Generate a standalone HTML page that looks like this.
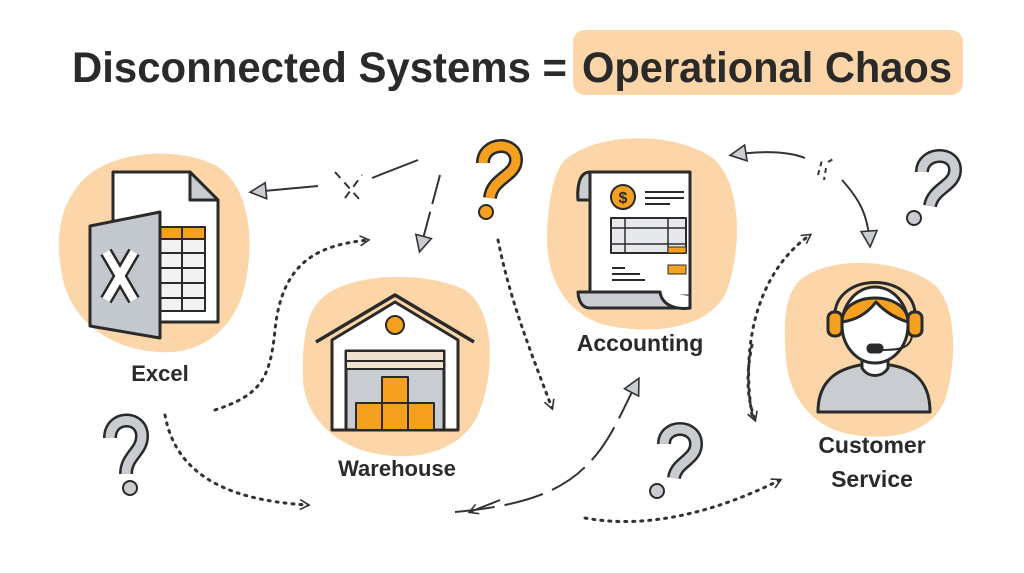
<!DOCTYPE html>
<html><head><meta charset="utf-8"><style>
html,body{margin:0;padding:0;background:#fff;}
svg{display:block;}
text{font-family:"Liberation Sans",sans-serif;font-weight:bold;fill:#2a2a2a;}
</style></head><body>
<svg width="1024" height="573" viewBox="0 0 1024 573" xmlns="http://www.w3.org/2000/svg">
<defs>
<marker id="ah" markerWidth="12" markerHeight="12" refX="9" refY="6" orient="auto" markerUnits="userSpaceOnUse"><path d="M1,1 L10,6 L1,11" fill="none" stroke="#333" stroke-width="1.6"/></marker>
<marker id="at" markerWidth="22" markerHeight="22" refX="16" refY="11" orient="auto" markerUnits="userSpaceOnUse"><path d="M2,3 L18,11 L2,19 Z" fill="#c9ccd1" stroke="#333" stroke-width="1.6"/></marker>
</defs>
<!-- title -->
<rect x="573" y="30" width="390" height="65" rx="12" fill="#fcd6a8"/>
<text x="72" y="82" font-size="43" textLength="495" lengthAdjust="spacingAndGlyphs">Disconnected Systems =</text>
<text x="582" y="82" font-size="43" textLength="370" lengthAdjust="spacingAndGlyphs">Operational Chaos</text>

<!-- blobs -->
<path d="M75,190 C100,150 175,145 215,165 C250,185 255,240 245,285 C235,330 200,355 160,352 C110,350 70,320 62,275 C55,240 60,210 75,190 Z" fill="#fcd6a8"/>
<path d="M320,300 C350,270 430,272 465,290 C495,310 495,370 480,410 C465,450 420,460 385,455 C340,450 305,420 303,380 C302,345 305,315 320,300 Z" fill="#fcd6a8"/>
<path d="M565,160 C600,130 680,132 715,160 C745,190 740,260 725,295 C705,330 650,335 605,325 C560,312 545,270 547,230 C549,195 555,170 565,160 Z" fill="#fcd6a8"/>
<path d="M800,280 C830,255 900,258 935,285 C960,310 955,370 945,400 C930,435 890,440 855,435 C815,430 790,400 786,360 C783,320 785,295 800,280 Z" fill="#fcd6a8"/>

<!-- Excel icon -->
<g stroke="#2a2a2a" stroke-width="3" stroke-linejoin="round">
<path d="M113,172 L190,172 L218,200 L218,322 L113,322 Z" fill="#fff"/>
<path d="M190,172 L190,200 L218,200 Z" fill="#c9ccd1"/>
<rect x="160" y="227" width="45" height="84" fill="#f2f2f2" stroke-width="2"/>
<rect x="160" y="227" width="45" height="12" fill="#f5a11f" stroke-width="2"/>
<path d="M182,227 V311 M160,253 H205 M160,268 H205 M160,283 H205 M160,298 H205" stroke-width="2" fill="none"/>
<path d="M90,226 L160,212 L160,338 L90,326 Z" fill="#c3c8ce"/>
<path d="M106,252 L134,300 M134,252 L106,300" stroke="#2a2a2a" stroke-width="13" stroke-linecap="butt"/>
<path d="M106,252 L134,300 M134,252 L106,300" stroke="#fff" stroke-width="8" stroke-linecap="butt"/>
</g>
<text x="160" y="381" font-size="22" text-anchor="middle">Excel</text>

<!-- Warehouse -->
<g stroke="#2a2a2a" stroke-width="3" stroke-linejoin="round">
<path d="M332,340 L332,430 L458,430 L458,340 L395,302 Z" fill="#fff"/>
<path d="M316,342 L395,295 L474,342" fill="none" stroke-width="3.5"/>
<rect x="346" y="351" width="98" height="79" fill="#c9ccd1"/>
<rect x="346" y="351" width="98" height="10" fill="#efe3d0" stroke-width="2"/>
<rect x="346" y="361" width="98" height="8" fill="#efe3d0" stroke-width="2"/>
<circle cx="395" cy="325" r="9" fill="#f5a11f" stroke-width="2"/>
<g fill="#f5a11f" stroke-width="2">
<rect x="382" y="377" width="26" height="26"/>
<rect x="356" y="403" width="26" height="27"/><rect x="382" y="403" width="26" height="27"/><rect x="408" y="403" width="26" height="27"/>
</g>
</g>
<text x="397" y="476" font-size="22" text-anchor="middle">Warehouse</text>

<!-- Accounting -->
<g stroke="#2a2a2a" stroke-width="3" stroke-linejoin="round">
<path d="M590,172 L690,172 L690,296 L590,296 Z" fill="#fff"/>
<path d="M590,172 C575,172 578,200 578,200 L590,200 Z" fill="#c9ccd1"/>
<path d="M578,292 L660,292 C665,300 672,308 690,308 L590,308 C578,308 578,292 578,292 Z" fill="#c9ccd1"/>
<path d="M660,292 C662,305 675,310 690,308 L690,296" fill="#fff"/>
<circle cx="623" cy="197" r="12" fill="#f5a11f" stroke-width="2"/>
<rect x="611" y="218" width="75" height="35" fill="#e6e8eb" stroke-width="2"/>
<path d="M611,228 H686 M611,244 H686 M625,218 V253 M668,218 V253" stroke-width="1.5" fill="none"/>
<path d="M645,192 H684 M645,198 H684 M645,204 H670 M612,268 H625 M612,274 H640 M612,280 H645" stroke-width="2" fill="none"/>
<rect x="668" y="265" width="18" height="9" fill="#f5a11f" stroke-width="1"/>
<rect x="668" y="247" width="18" height="6" fill="#f5a11f" stroke-width="1"/>
</g>
<text x="623" y="203" font-size="16" text-anchor="middle" style="fill:#2a2a2a">$</text>
<text x="640" y="351" font-size="23" text-anchor="middle">Accounting</text>

<!-- Customer service -->
<g stroke="#2a2a2a" stroke-width="3" stroke-linejoin="round">
<path d="M818,412 C818,375 845,368 860,365 L890,365 C910,368 930,378 930,412 Z" fill="#c9ccd1"/>
<path d="M862,350 L862,368 C868,378 882,378 888,368 L888,350 Z" fill="#fff"/>
<ellipse cx="875" cy="325" rx="33" ry="38" fill="#fff"/>
<path d="M842,322 C842,290 908,290 908,322 C895,318 885,312 876,302 C866,315 855,320 842,322 Z" fill="#f5a11f"/>
<path d="M835,320 C830,270 920,270 915,320" fill="none"/>
<rect x="828" y="312" width="14" height="24" rx="6" fill="#f5a11f"/>
<rect x="908" y="312" width="14" height="24" rx="6" fill="#f5a11f"/>
<path d="M912,336 C910,350 895,350 880,350" fill="none" stroke-width="2"/>
<rect x="868" y="345" width="14" height="7" rx="3" fill="#2a2a2a"/>
</g>
<text x="872" y="453" font-size="23" text-anchor="middle">Customer</text>
<text x="872" y="487" font-size="23" text-anchor="middle">Service</text>

<!-- question marks -->
<g fill="none" stroke-linecap="butt" stroke-linejoin="round">
<g stroke="#2a2a2a" stroke-width="14">
<path d="M483,163 C483,142 516,140 516,160 C516,176 492,178 490,198"/>
<path d="M922,172 C922,152 955,150 955,170 C955,186 933,188 930,206"/>
<path d="M110,438 C110,415 142,415 142,436 C142,452 126,456 126,474"/>
<path d="M664,444 C664,424 696,424 696,444 C696,460 676,462 674,478"/>
</g>
<path d="M483,163 C483,142 516,140 516,160 C516,176 492,178 490,198" stroke="#f5a11f" stroke-width="9"/>
<g stroke="#c9ccd1" stroke-width="9">
<path d="M922,172 C922,152 955,150 955,170 C955,186 933,188 930,206"/>
<path d="M110,438 C110,415 142,415 142,436 C142,452 126,456 126,474"/>
<path d="M664,444 C664,424 696,424 696,444 C696,460 676,462 674,478"/>
</g>
</g>
<g stroke="#2a2a2a" stroke-width="2">
<circle cx="486" cy="212" r="7" fill="#f5a11f"/>
<circle cx="914" cy="218" r="7" fill="#c9ccd1"/>
<circle cx="130" cy="488" r="7" fill="#c9ccd1"/>
<circle cx="657" cy="491" r="7" fill="#c9ccd1"/>
</g>

<!-- connectors -->
<g fill="none" stroke="#333" stroke-width="2">
<path d="M318,186 L252,192" marker-end="url(#at)"/>
<path d="M335,172 L360,200 M345,198 L362,175" stroke-dasharray="8,6"/>
<path d="M372,178 L418,160"/>
<path d="M440,175 L420,250" stroke-dasharray="30,8" marker-end="url(#at)"/>
<path d="M215,410 C260,395 270,380 275,330 C282,260 320,245 368,240" stroke-dasharray="2,6" stroke-width="3" stroke-linecap="round" marker-end="url(#ah)"/>
<path d="M165,415 C175,470 220,500 308,505" stroke-dasharray="2,6" stroke-width="3" stroke-linecap="round" marker-end="url(#ah)"/>
<path d="M498,240 C510,300 530,350 552,408" stroke-dasharray="2,6" stroke-width="3" stroke-linecap="round" marker-end="url(#ah)"/>
<path d="M585,518 C650,530 720,510 780,480" stroke-dasharray="2,6" stroke-width="3" stroke-linecap="round" marker-end="url(#ah)"/>
<path d="M752,415 C740,340 760,270 810,235" stroke-dasharray="2,6" stroke-width="3" stroke-linecap="round" marker-end="url(#ah)"/>
<path d="M752,345 C745,380 748,400 755,420" stroke-dasharray="2,6" stroke-width="3" stroke-linecap="round" marker-end="url(#ah)"/>
<path d="M455,512 C530,505 570,490 600,450 C615,430 625,405 638,380" stroke-dasharray="40,10" marker-end="url(#at)"/>
<path d="M500,500 L470,512" marker-end="url(#ah)"/>
<path d="M805,158 C790,152 765,150 732,155" marker-end="url(#at)"/>
<path d="M818,175 L822,160 M828,162 L835,158 M826,168 L824,180" stroke-dasharray="5,4"/>
<path d="M842,180 C860,200 868,215 870,245" marker-end="url(#at)"/>
</g>
</svg>
</body></html>
